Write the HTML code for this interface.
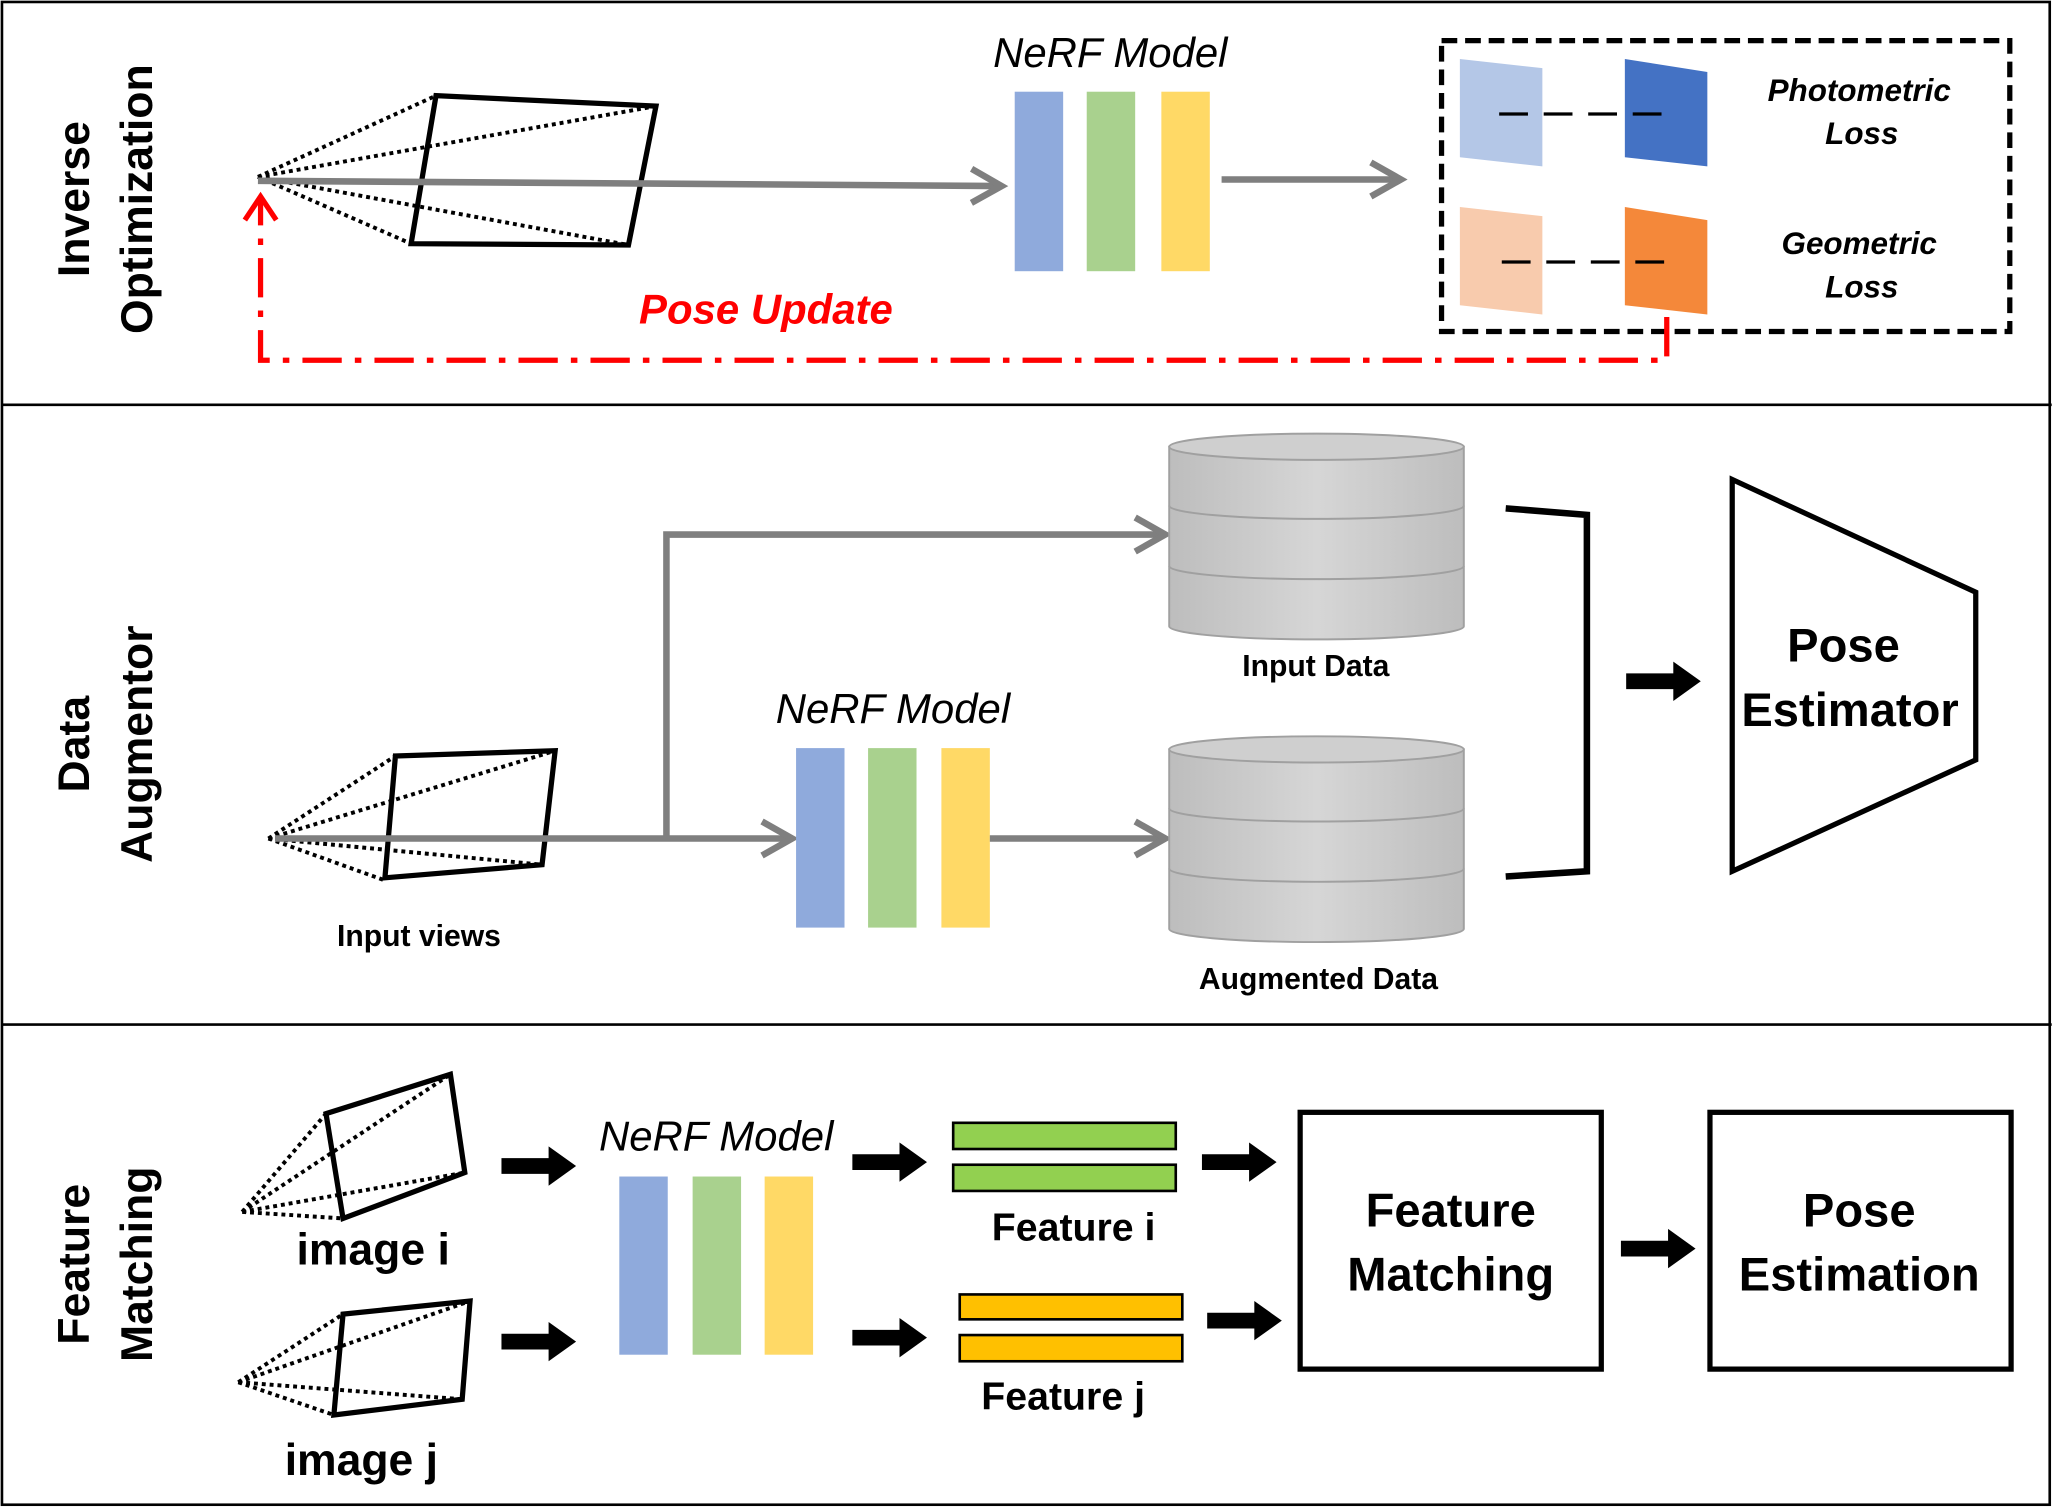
<!DOCTYPE html>
<html><head><meta charset="utf-8"><style>html,body{margin:0;padding:0;background:#fff}svg{display:block}</style></head>
<body>
<svg width="2053" height="1508" viewBox="0 0 1568 1151" preserveAspectRatio="none" xmlns="http://www.w3.org/2000/svg" font-family="Liberation Sans, sans-serif">
<defs>
<linearGradient id="cyl" x1="0" x2="1" y1="0" y2="0">
<stop offset="0" stop-color="#bdbdbd"/><stop offset="0.5" stop-color="#d6d6d6"/><stop offset="1" stop-color="#bdbdbd"/>
</linearGradient>
<marker id="ga" markerWidth="34" markerHeight="36" refX="26" refY="16" orient="auto" markerUnits="userSpaceOnUse" viewBox="0 0 34 36"><path d="M3,3 L26,16 L3,29" fill="none" stroke="#7f7f7f" stroke-width="5"/></marker>
<g id="bk"><polygon points="0,-6 36,-6 36,-15 57,0 36,15 36,6 0,6" fill="#000"/></g>
</defs>
<rect x="1.5" y="1.5" width="1564" height="1147" fill="#fff" stroke="#000" stroke-width="2"/>
<line x1="1" y1="309" x2="1567" y2="309" stroke="#000" stroke-width="2"/>
<line x1="1" y1="782" x2="1567" y2="782" stroke="#000" stroke-width="2"/>

<g font-weight="bold" font-size="34" text-anchor="middle">
<text transform="translate(68,152) rotate(-90)">Inverse</text>
<text transform="translate(116,152) rotate(-90)">Optimization</text>
<text transform="translate(68,568) rotate(-90)">Data</text>
<text transform="translate(116,568) rotate(-90)">Augmentor</text>
<text transform="translate(68,965) rotate(-90)">Feature</text>
<text transform="translate(116,965) rotate(-90)">Matching</text>
</g>
<g stroke="#000" stroke-width="3" stroke-dasharray="3,3" fill="none">
<line x1="197" y1="135" x2="333" y2="73"/><line x1="197" y1="135" x2="501" y2="81"/><line x1="197" y1="135" x2="480" y2="187"/><line x1="197" y1="135" x2="314" y2="186"/>
</g>
<polygon points="333,73 501,81 480,187 314,186" fill="none" stroke="#000" stroke-width="4"/>
<line x1="197" y1="138" x2="765" y2="142" stroke="#7f7f7f" stroke-width="5" marker-end="url(#ga)"/>
<text x="848" y="51" font-size="32" font-style="italic" text-anchor="middle">NeRF Model</text>
<rect x="775" y="70" width="37" height="137" fill="#8FAADC"/>
<rect x="830" y="70" width="37" height="137" fill="#A9D18E"/>
<rect x="887" y="70" width="37" height="137" fill="#FFD966"/>
<line x1="933" y1="137" x2="1070" y2="137" stroke="#7f7f7f" stroke-width="5" marker-end="url(#ga)"/>
<rect x="1101" y="31" width="434" height="222" fill="none" stroke="#000" stroke-width="4" stroke-dasharray="12,6"/>
<polygon points="1115,45 1178,52 1178,127 1115,120" fill="#B4C7E7"/>
<polygon points="1241,45 1304,55 1304,127 1241,120" fill="#4472C4"/>
<line x1="1145" y1="87" x2="1272" y2="87" stroke="#000" stroke-width="2.5" stroke-dasharray="22,12"/>
<polygon points="1115,158 1178,165 1178,240 1115,233" fill="#F8CBAD"/>
<polygon points="1241,158 1304,168 1304,240 1241,233" fill="#F4883A"/>
<line x1="1147" y1="200" x2="1274" y2="200" stroke="#000" stroke-width="2.5" stroke-dasharray="22,12"/>
<g font-weight="bold" font-style="italic" font-size="24" text-anchor="middle">
<text x="1420" y="77">Photometric</text><text x="1422" y="110">Loss</text>
<text x="1420" y="194">Geometric</text><text x="1422" y="227">Loss</text>
</g>
<path d="M1273,242 L1273,275 L199,275 L199,153" fill="none" stroke="#f00" stroke-width="4" stroke-dasharray="30,10,5,10"/>
<path d="M187,168 L199,150 L211,168" fill="none" stroke="#f00" stroke-width="4"/>
<text x="585" y="247" font-size="32" font-weight="bold" font-style="italic" fill="#f00" text-anchor="middle">Pose Update</text>

<g stroke="#000" stroke-width="3" stroke-dasharray="3,3" fill="none">
<line x1="205" y1="640" x2="302" y2="577"/><line x1="205" y1="640" x2="424" y2="573"/><line x1="205" y1="640" x2="414" y2="660"/><line x1="205" y1="640" x2="294" y2="672"/>
</g>
<polygon points="302,577 424,573 414,660 294,670" fill="none" stroke="#000" stroke-width="4"/>
<line x1="210" y1="640" x2="605" y2="640" stroke="#7f7f7f" stroke-width="5" marker-end="url(#ga)"/>
<polyline points="509,640 509,408 890,408" fill="none" stroke="#7f7f7f" stroke-width="5" marker-end="url(#ga)"/>
<text x="682" y="552" font-size="32" font-style="italic" text-anchor="middle">NeRF Model</text>
<rect x="608" y="571" width="37" height="137" fill="#8FAADC"/>
<rect x="663" y="571" width="37" height="137" fill="#A9D18E"/>
<rect x="719" y="571" width="37" height="137" fill="#FFD966"/>
<line x1="756" y1="640" x2="890" y2="640" stroke="#7f7f7f" stroke-width="5" marker-end="url(#ga)"/>
<g stroke="#a0a0a0" stroke-width="1.5">
<path d="M893,341 L893,478 A112,10 0 0 0 1118,478 L1118,341 Z" fill="url(#cyl)"/>
<ellipse cx="1005.5" cy="341" rx="112.5" ry="10" fill="#cfcfcf"/>
<path d="M893,386 A112,10 0 0 0 1118,386 M893,432 A112,10 0 0 0 1118,432" fill="none"/>
<path d="M893,572 L893,709 A112,10 0 0 0 1118,709 L1118,572 Z" fill="url(#cyl)"/>
<ellipse cx="1005.5" cy="572" rx="112.5" ry="10" fill="#cfcfcf"/>
<path d="M893,617 A112,10 0 0 0 1118,617 M893,663 A112,10 0 0 0 1118,663" fill="none"/>
</g>
<text x="1005" y="516" font-size="23" font-weight="bold" text-anchor="middle">Input Data</text>
<text x="1007" y="755" font-size="23" font-weight="bold" text-anchor="middle">Augmented Data</text>
<text x="320" y="722" font-size="23" font-weight="bold" text-anchor="middle">Input views</text>
<path d="M1150,388 L1212,393 L1212,665 L1150,669" fill="none" stroke="#000" stroke-width="5"/>
<use href="#bk" x="1242" y="520"/>
<polygon points="1323,366 1509,452 1509,580 1323,665" fill="#fff" stroke="#000" stroke-width="4"/>
<text x="1408" y="505" font-size="36" font-weight="bold" text-anchor="middle">Pose</text>
<text x="1413" y="554" font-size="36" font-weight="bold" text-anchor="middle">Estimator</text>

<g stroke="#000" stroke-width="3" stroke-dasharray="3,3" fill="none">
<line x1="185" y1="925" x2="249" y2="850"/><line x1="185" y1="925" x2="344" y2="820"/><line x1="185" y1="925" x2="355" y2="895"/><line x1="185" y1="925" x2="262" y2="930"/>
<line x1="182" y1="1055" x2="262" y2="1003"/><line x1="182" y1="1055" x2="359" y2="993"/><line x1="182" y1="1055" x2="353" y2="1068"/><line x1="182" y1="1055" x2="255" y2="1080"/>
</g>
<polygon points="249,850 344,820 355,895 262,930" fill="none" stroke="#000" stroke-width="4"/>
<polygon points="262,1003 359,993 353,1068 255,1080" fill="none" stroke="#000" stroke-width="4"/>
<text x="285" y="965" font-size="34" font-weight="bold" text-anchor="middle">image i</text>
<text x="276" y="1126" font-size="34" font-weight="bold" text-anchor="middle">image j</text>
<use href="#bk" x="383" y="890"/>
<use href="#bk" x="383" y="1024"/>
<text x="547" y="878" font-size="32" font-style="italic" text-anchor="middle">NeRF Model</text>
<rect x="473" y="898" width="37" height="136" fill="#8FAADC"/>
<rect x="529" y="898" width="37" height="136" fill="#A9D18E"/>
<rect x="584" y="898" width="37" height="136" fill="#FFD966"/>
<use href="#bk" x="651" y="887"/>
<use href="#bk" x="651" y="1021"/>
<rect x="728" y="857" width="170" height="20" fill="#92D050" stroke="#000" stroke-width="2"/>
<rect x="728" y="889" width="170" height="20" fill="#92D050" stroke="#000" stroke-width="2"/>
<rect x="733" y="988" width="170" height="19" fill="#FFC000" stroke="#000" stroke-width="2"/>
<rect x="733" y="1019" width="170" height="20" fill="#FFC000" stroke="#000" stroke-width="2"/>
<text x="820" y="947" font-size="30" font-weight="bold" text-anchor="middle">Feature i</text>
<text x="812" y="1076" font-size="30" font-weight="bold" text-anchor="middle">Feature j</text>
<use href="#bk" x="918" y="887"/>
<use href="#bk" x="922" y="1008"/>
<rect x="993" y="849" width="230" height="196" fill="#fff" stroke="#000" stroke-width="4"/>
<text x="1108" y="936" font-size="36" font-weight="bold" text-anchor="middle">Feature</text>
<text x="1108" y="985" font-size="36" font-weight="bold" text-anchor="middle">Matching</text>
<use href="#bk" x="1238" y="953"/>
<rect x="1306" y="849" width="230" height="196" fill="#fff" stroke="#000" stroke-width="4"/>
<text x="1420" y="936" font-size="36" font-weight="bold" text-anchor="middle">Pose</text>
<text x="1420" y="985" font-size="36" font-weight="bold" text-anchor="middle">Estimation</text>
</svg>
</body></html>
